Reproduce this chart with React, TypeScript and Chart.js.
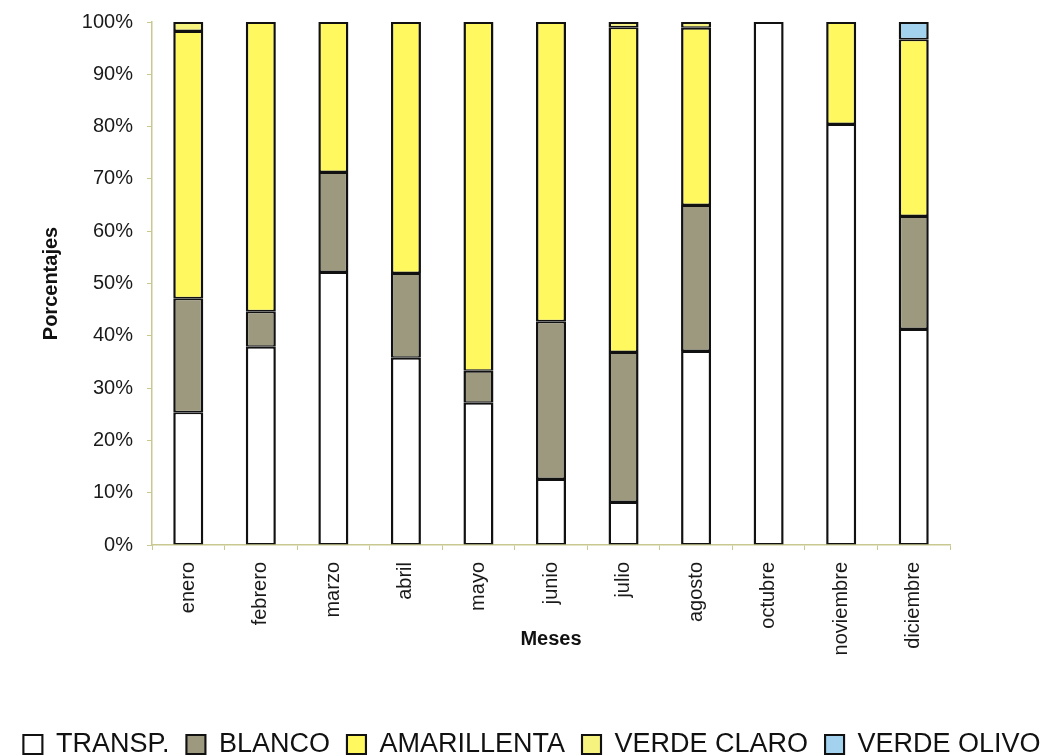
import React, { useEffect, useRef } from 'react';
import { Chart, registerables } from 'chart.js';

Chart.register(...registerables);

const months = ['enero', 'febrero', 'marzo', 'abril', 'mayo', 'junio', 'julio', 'agosto', 'octubre', 'noviembre', 'diciembre'];
const transp = [25.4, 37.9, 52.2, 35.8, 27.2, 12.6, 8.2, 37.1, 100, 80.5, 41.3];
const blanco = [21.8, 6.8, 19.1, 16.2, 6.1, 30.2, 28.7, 27.9, 0, 0, 21.6];
const amarillenta = [51.1, 55.3, 28.7, 48.0, 66.7, 57.2, 62.1, 33.9, 0, 19.5, 33.8];
const verdeClaro = [1.7, 0, 0, 0, 0, 0, 1.0, 1.1, 0, 0, 0];
const verdeOlivo = [0, 0, 0, 0, 0, 0, 0, 0, 0, 0, 3.3];
const seriesNames = ['TRANSP.', 'BLANCO', 'AMARILLENTA', 'VERDE CLARO', 'VERDE OLIVO'];
const seriesColors = ['#ffffff', '#9d997f', '#fff85e', '#f6f47e', '#a3d2ee'];
const yTitle = 'Porcentajes';
const xTitle = 'Meses';

const FONT = 'Arial, "Liberation Sans", Helvetica, sans-serif';
const AXIS_COLOR = '#c8c890';

export default function App() {
  const ref = useRef<HTMLCanvasElement | null>(null);

  useEffect(() => {
    if (!ref.current) return;
    const values = [transp, blanco, amarillenta, verdeClaro, verdeOlivo];
    const chart = new Chart(ref.current, {
      type: 'bar',
      data: {
        labels: months,
        datasets: values.map((d, i) => ({
          label: seriesNames[i],
          data: d,
          backgroundColor: seriesColors[i],
          borderColor: '#111111',
          borderWidth: { top: 2, bottom: 1.5, left: 2.5, right: 2.5 },
          borderSkipped: false,
          barPercentage: 0.414,
          categoryPercentage: 1,
          stack: 's',
        })),
      },
      options: {
        animation: false,
        responsive: true,
        maintainAspectRatio: false,
        layout: { padding: { top: 22, bottom: -12, left: 0, right: 0 } },
        plugins: {
          tooltip: { enabled: false },
          legend: {
            position: 'bottom',
            labels: {
              color: '#111111',
              font: { family: FONT, size: 27 },
              boxWidth: 19,
              boxHeight: 19,
              padding: 17,
            },
          },
        },
        scales: {
          x: {
            stacked: true,
            grid: { drawOnChartArea: false, drawTicks: true, tickLength: 5, color: AXIS_COLOR, offset: true },
            border: { display: true, color: AXIS_COLOR, width: 1.5 },
            ticks: {
              color: '#1a1a1a',
              font: { family: FONT, size: 20 },
              minRotation: 90,
              maxRotation: 90,
              padding: 12,
              autoSkip: false,
            },
            title: {
              display: true,
              text: xTitle,
              color: '#111111',
              font: { family: FONT, size: 20, weight: 'bold' },
              padding: { top: 0, bottom: 63 },
            },
            afterFit: (s: any) => { s.height = 169; },
          },
          y: {
            stacked: true,
            min: 0,
            max: 100,
            grid: { drawOnChartArea: false, drawTicks: true, tickLength: 5, color: AXIS_COLOR },
            border: { display: true, color: AXIS_COLOR, width: 1.5 },
            ticks: {
              stepSize: 10,
              color: '#1a1a1a',
              font: { family: FONT, size: 20 },
              padding: 14,
              callback: (v: any) => v + '%',
            },
            title: {
              display: true,
              text: yTitle,
              color: '#111111',
              font: { family: FONT, size: 20, weight: 'bold' },
              padding: { top: 39, bottom: 0 },
            },
            afterFit: (s: any) => { s.width = 152; s.paddingTop = 0; s.paddingBottom = 0; },
          },
          yRight: {
            position: 'right',
            display: true,
            grid: { display: false, drawTicks: false },
            border: { display: false },
            ticks: { display: false },
            afterFit: (s: any) => { s.width = 114; s.paddingTop = 0; s.paddingBottom = 0; },
          },
        },
      } as any,
    });
    return () => chart.destroy();
  }, []);

  return (
    <div style={{ position: 'fixed', left: 0, top: 0, width: 1064, height: 756, background: '#ffffff' }}>
      <canvas ref={ref} />
    </div>
  );
}
